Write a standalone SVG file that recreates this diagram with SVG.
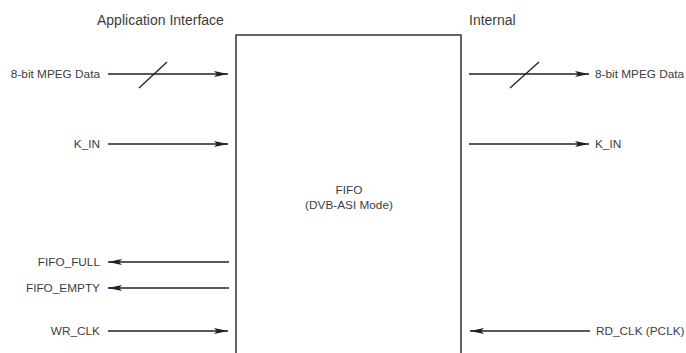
<svg xmlns="http://www.w3.org/2000/svg" width="686" height="353" viewBox="0 0 686 353">
<style>
text{font-family:"Liberation Sans",Arial,sans-serif;fill:#3c3c3c}
.h{font-size:14px}
.l{font-size:11.8px}
.w{stroke:#222;stroke-width:1.3;fill:none}
.box{stroke:#333;stroke-width:1.5;fill:#fff}
</style>
<defs>
<marker id="ah" markerUnits="userSpaceOnUse" markerWidth="15" markerHeight="6" refX="14" refY="3" orient="auto">
<path d="M0,0 L14,3 L0,6 L3,3 Z" fill="#222"/>
</marker>
</defs>
<text class="h" x="97" y="25">Application Interface</text>
<text class="h" x="469" y="25">Internal</text>
<g id="fifo">
<path class="box" d="M236,354 V35 H461 V354"/>
<text class="l" x="349" y="194" text-anchor="middle">FIFO</text>
<text class="l" x="349" y="209" text-anchor="middle">(DVB-ASI Mode)</text>
</g>
<g id="connectors">
<line class="w" x1="108" y1="74" x2="228" y2="74" marker-end="url(#ah)"/>
<line class="w" x1="139" y1="88" x2="167" y2="62"/>
<line class="w" x1="108" y1="144" x2="228" y2="144" marker-end="url(#ah)"/>
<line class="w" x1="229" y1="262" x2="108" y2="262" marker-end="url(#ah)"/>
<line class="w" x1="229" y1="288" x2="108" y2="288" marker-end="url(#ah)"/>
<line class="w" x1="108" y1="331" x2="228" y2="331" marker-end="url(#ah)"/>
<line class="w" x1="469" y1="74" x2="589" y2="74" marker-end="url(#ah)"/>
<line class="w" x1="510" y1="88" x2="539" y2="62"/>
<line class="w" x1="469" y1="144" x2="589" y2="144" marker-end="url(#ah)"/>
<line class="w" x1="590" y1="331" x2="470" y2="331" marker-end="url(#ah)"/>
</g>
<g id="labels">
<text class="l" x="100" y="78" text-anchor="end">8-bit MPEG Data</text>
<text class="l" x="100" y="148" text-anchor="end">K_IN</text>
<text class="l" x="100" y="266" text-anchor="end">FIFO_FULL</text>
<text class="l" x="100" y="292" text-anchor="end">FIFO_EMPTY</text>
<text class="l" x="100" y="335" text-anchor="end">WR_CLK</text>
<text class="l" x="595" y="78">8-bit MPEG Data</text>
<text class="l" x="595" y="148">K_IN</text>
<text class="l" x="596" y="335">RD_CLK (PCLK)</text>
</g>
</svg>
